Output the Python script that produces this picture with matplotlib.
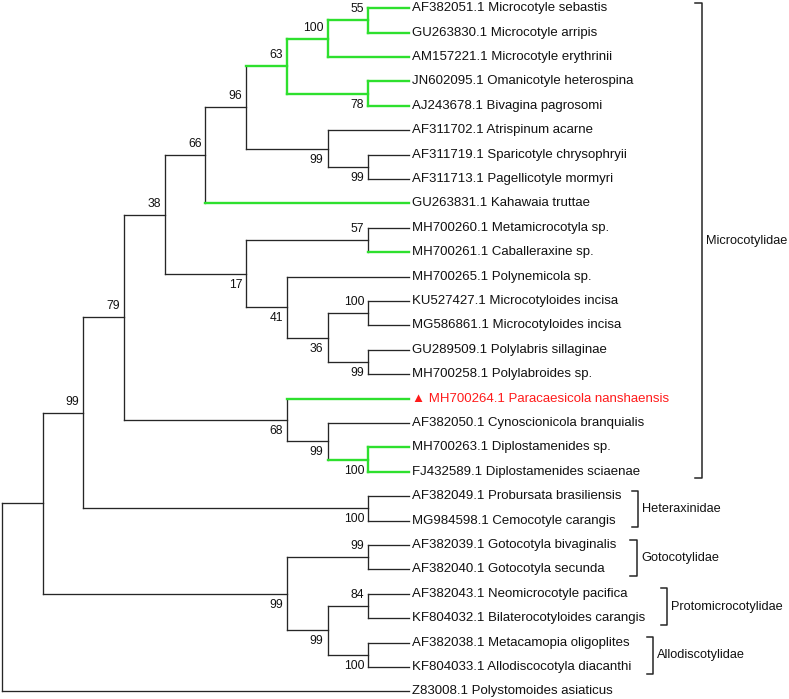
import matplotlib
matplotlib.use("Agg")
import matplotlib.pyplot as plt
from matplotlib.transforms import offset_copy

plt.rcParams["font.family"] = ["Liberation Sans", "DejaVu Sans"]

# tree topology: (bootstrap, [children]); leaves are strings
tree = (None, [
    (None, [
        (99, [
            (79, [
                (38, [
                    (66, [
                        (96, [
                            (63, [
                                (100, [
                                    (55, ["AF382051.1 Microcotyle sebastis",
                                          "GU263830.1 Microcotyle arripis"]),
                                    "AM157221.1 Microcotyle erythrinii",
                                ]),
                                (78, ["JN602095.1 Omanicotyle heterospina",
                                      "AJ243678.1 Bivagina pagrosomi"]),
                            ]),
                            (99, [
                                "AF311702.1 Atrispinum acarne",
                                (99, ["AF311719.1 Sparicotyle chrysophryii",
                                      "AF311713.1 Pagellicotyle mormyri"]),
                            ]),
                        ]),
                        "GU263831.1 Kahawaia truttae",
                    ]),
                    (17, [
                        (57, ["MH700260.1 Metamicrocotyla sp.",
                              "MH700261.1 Caballeraxine sp."]),
                        (41, [
                            "MH700265.1 Polynemicola sp.",
                            (36, [
                                (100, ["KU527427.1 Microcotyloides incisa",
                                       "MG586861.1 Microcotyloides incisa"]),
                                (99, ["GU289509.1 Polylabris sillaginae",
                                      "MH700258.1 Polylabroides sp."]),
                            ]),
                        ]),
                    ]),
                ]),
                (68, [
                    "MH700264.1 Paracaesicola nanshaensis",
                    (99, [
                        "AF382050.1 Cynoscionicola branquialis",
                        (100, ["MH700263.1 Diplostamenides sp.",
                               "FJ432589.1 Diplostamenides sciaenae"]),
                    ]),
                ]),
            ]),
            (100, ["AF382049.1 Probursata brasiliensis",
                   "MG984598.1 Cemocotyle carangis"]),
        ]),
        (99, [
            (99, ["AF382039.1 Gotocotyla bivaginalis",
                  "AF382040.1 Gotocotyla secunda"]),
            (99, [
                (84, ["AF382043.1 Neomicrocotyle pacifica",
                      "KF804032.1 Bilaterocotyloides carangis"]),
                (100, ["AF382038.1 Metacamopia oligoplites",
                       "KF804033.1 Allodiscocotyla diacanthi"]),
            ]),
        ]),
    ]),
    "Z83008.1 Polystomoides asiaticus",
])

green_leaves = [
    "AF382051.1 Microcotyle sebastis", "GU263830.1 Microcotyle arripis",
    "AM157221.1 Microcotyle erythrinii", "JN602095.1 Omanicotyle heterospina",
    "AJ243678.1 Bivagina pagrosomi", "GU263831.1 Kahawaia truttae",
    "MH700261.1 Caballeraxine sp.", "MH700264.1 Paracaesicola nanshaensis",
    "MH700263.1 Diplostamenides sp.", "FJ432589.1 Diplostamenides sciaenae",
]
new_species = "MH700264.1 Paracaesicola nanshaensis"

# families: (name, first leaf index, last leaf index)
families = [
    ("Microcotylidae", 0, 19),
    ("Heteraxinidae", 20, 21),
    ("Gotocotylidae", 22, 23),
    ("Protomicrocotylidae", 24, 25),
    ("Allodiscotylidae", 26, 27),
]
# bracket positions in tree units (x)
bracket_x = [17.2, 15.63, 15.6, 16.35, 16.0]

GREEN = "#2ee02e"
DARK = "#262626"

# ---- layout ----
nodes = []  # dicts with y, height, leaves, children ids, support
leaf_counter = [0]


def build(node):
    if isinstance(node, str):
        y = leaf_counter[0]
        leaf_counter[0] += 1
        nodes.append(dict(name=node, y=y, h=0, leaves=[node], kids=[], sup=None))
        return len(nodes) - 1
    sup, children = node
    kid_ids = [build(c) for c in children]
    ys = [nodes[k]["y"] for k in kid_ids]
    leaves = sum((nodes[k]["leaves"] for k in kid_ids), [])
    h = max(nodes[k]["h"] for k in kid_ids) + 1
    nodes.append(dict(name=None, y=(ys[0] + ys[-1]) / 2, h=h, leaves=leaves,
                      kids=kid_ids, sup=sup))
    return len(nodes) - 1


root = build(tree)
depth = nodes[root]["h"]
for n in nodes:
    n["x"] = depth - n["h"]
    n["green"] = all(l in green_leaves for l in n["leaves"])

fig = plt.figure(figsize=(7.89, 6.99), dpi=100)
ax = fig.add_axes([0, 0, 1, 1])
ax.set_xlim(-0.049, 19.34)
ax.set_ylim(28.31, -0.34)
ax.axis("off")


def seg(x0, x1, y0, y1, green):
    ax.plot([x0, x1], [y0, y1], color=GREEN if green else DARK,
            lw=1.7 if green else 0.95, solid_capstyle="projecting")


above = offset_copy(ax.transData, fig=fig, x=-4, y=5, units="dots")
below = offset_copy(ax.transData, fig=fig, x=-4, y=-5, units="dots")

for pid, p in enumerate(nodes):
    if not p["kids"]:
        continue
    first = nodes[p["kids"][0]]
    last = nodes[p["kids"][-1]]
    seg(p["x"], p["x"], first["y"], last["y"], p["green"])
    for i, k in enumerate(p["kids"]):
        c = nodes[k]
        seg(p["x"], c["x"], c["y"], c["y"], c["green"])
        if c["sup"] is not None:
            if i == 0:
                ax.text(c["x"], c["y"], str(c["sup"]), transform=above,
                        ha="right", va="bottom", fontsize=8.7, color="#111")
            else:
                ax.text(c["x"], c["y"], str(c["sup"]), transform=below,
                        ha="right", va="top", fontsize=8.7, color="#111")

lab = offset_copy(ax.transData, fig=fig, x=3, y=0, units="dots")
for n in nodes:
    if n["kids"]:
        continue
    if n["name"] == new_species:
        ax.text(n["x"], n["y"], "\u25b2 " + n["name"], transform=lab,
                ha="left", va="center", fontsize=9.5, color="#ff1a1a")
    else:
        ax.text(n["x"], n["y"], n["name"], transform=lab,
                ha="left", va="center", fontsize=9.5, color="#111")

# family brackets
for (fam, i0, i1), bx in zip(families, bracket_x):
    y0, y1 = i0 - 0.22, i1 + 0.27
    tick = 0.16
    ax.plot([bx - tick, bx, bx, bx - tick], [y0, y0, y1, y1],
            color=DARK, lw=1.1)
    ax.text(bx + 0.1, (y0 + y1) / 2, fam, ha="left", va="center",
            fontsize=9.2, color="#111")

fig.savefig("out.png", dpi=100)
